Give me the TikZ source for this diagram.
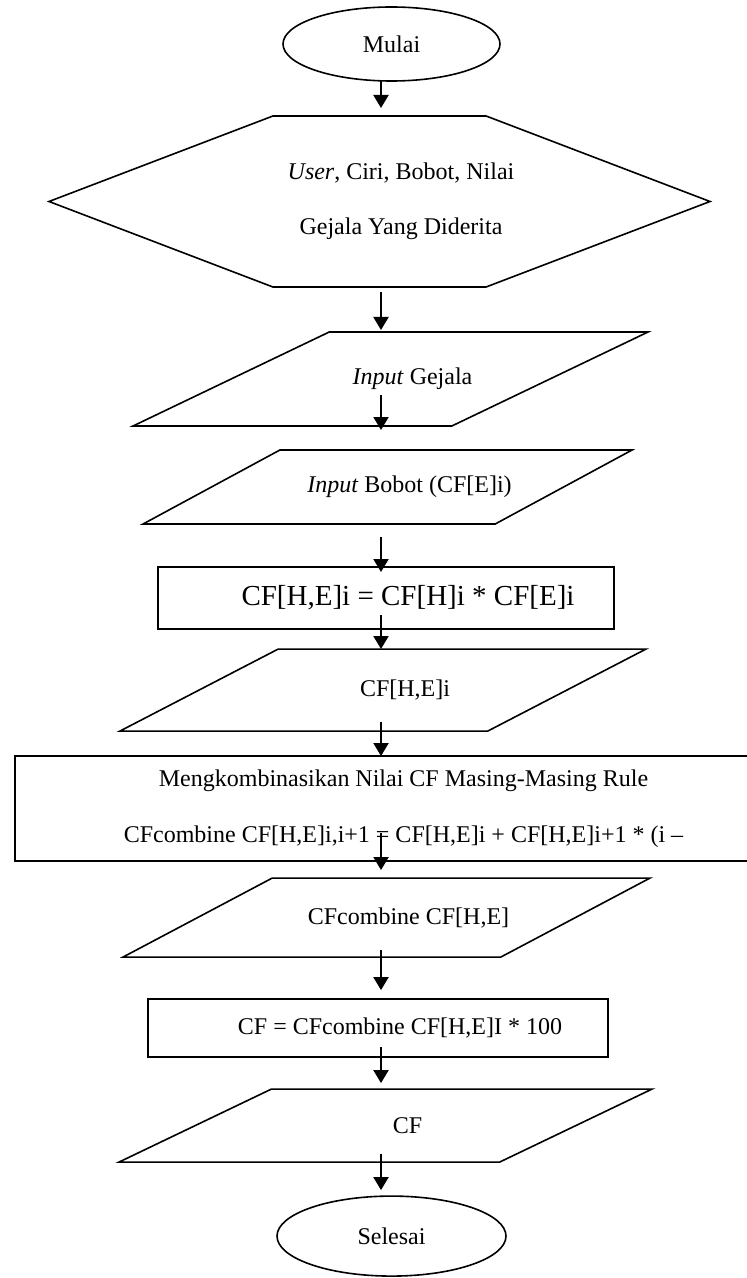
\documentclass[tikz,border=0pt]{standalone}
\usepackage{fontspec}
\setmainfont{Liberation Serif}
\usetikzlibrary{positioning,arrows.meta,shapes.geometric,shapes.symbols}

\begin{document}
\begin{tikzpicture}[
    font=\fontsize{12}{14}\selectfont,
    line width=0.8pt,
    term_box/.style={ellipse, draw, inner sep=0pt, outer sep=0pt},
    prep_box/.style={signal, signal to=east and west, draw, inner sep=0pt, outer sep=0pt},
    io_box/.style={trapezium, trapezium stretches body, draw, inner xsep=0pt, outer sep=0pt},
    proc_box/.style={rectangle, draw, inner sep=0pt, outer sep=0pt},
    txt/.style={xshift=11pt},
    arrow/.style={-{Triangle[width=7.5pt,length=6.5pt]}, line width=1pt}
]
\useasboundingbox (0,0) rectangle (373.5pt,-639pt);
\coordinate (spine) at (190.5pt,0);

\node (mulai) [term_box, minimum width=108.5pt, minimum height=37pt] at (195.75pt,-22pt) {Mulai};

\node (data) [prep_box, below=17.5pt of mulai, xshift=-6pt,
    signal pointer angle=41.8, minimum width=330.5pt, minimum height=85.5pt,
    label={[align=center, font=\fontsize{12}{27.5}\selectfont, xshift=10.75pt]center:{\textit{User}, Ciri, Bobot, Nilai\\Gejala Yang Diderita}}] {};

\node (gejala) [io_box, below=22.5pt of data, xshift=5.5pt,
    trapezium left angle=25.6, trapezium right angle=154.4, minimum width=257.5pt, inner ysep=23.5pt,
    label={[txt]center:{\textit{Input} Gejala}}] {};

\node (bobot) [io_box, below=12pt of gejala, xshift=-1.5pt,
    trapezium left angle=28.4, trapezium right angle=151.6, minimum width=244.5pt, inner ysep=18.5pt,
    label={[txt]center:{\textit{Input} Bobot (CF[E]i)}}] {};

\node (hitung) [proc_box, below=21.5pt of bobot, xshift=-0.75pt, minimum width=228pt, minimum height=31pt,
    label={[txt, font=\fontsize{14.5}{17}\selectfont]center:{CF[H,E]i = CF[H]i * CF[E]i}}] {};

\node (hasil) [io_box, below=10pt of hitung, xshift=-1.5pt,
    trapezium left angle=27.4, trapezium right angle=152.6, minimum width=263pt, inner ysep=20.5pt,
    label={[txt]center:{CF[H,E]i}}] {};

\node (kombinasi) [proc_box, below=12.5pt of hasil, xshift=2.25pt, minimum width=372.5pt, minimum height=52.5pt,
    label={[align=center, font=\fontsize{12}{28}\selectfont, xshift=8pt]center:{Mengkombinasikan Nilai CF Masing-Masing Rule\\CFcombine CF[H,E]i,i+1 = CF[H,E]i + CF[H,E]i+1 * (i –}}] {};

\node (combine) [io_box, below=8.5pt of kombinasi, xshift=-0.5pt,
    trapezium left angle=27.9, trapezium right angle=152.1, minimum width=263.5pt, inner ysep=19.75pt,
    label={[txt]center:{CFcombine CF[H,E]}}] {};

\node (persen) [proc_box, below=21pt of combine, xshift=-4.25pt, minimum width=230pt, minimum height=29pt,
    label={[txt]center:{CF = CFcombine CF[H,E]I * 100}}] {};

\node (cf) [io_box, below=16pt of persen, xshift=3.75pt,
    trapezium left angle=25.6, trapezium right angle=154.4, minimum width=266.5pt, inner ysep=18.25pt,
    label={[txt]center:{CF}}] {};

\node (selesai) [term_box, below=17pt of cf, xshift=3pt, minimum width=114.5pt, minimum height=40pt] {Selesai};

\draw [arrow, shorten >=4pt]                      (mulai.south -| spine)      -- (data.north -| spine);
\draw [arrow, shorten <=2.5pt, shorten >=1pt]     (data.south -| spine)       -- (gejala.north -| spine);
\draw [arrow, shorten <=8pt, shorten >=10pt]      (gejala.center -| spine)    -- (bobot.north -| spine);
\draw [arrow, shorten <=6.5pt, shorten >=-2.5pt]  (bobot.south -| spine)      -- (hitung.north -| spine);
\draw [arrow, shorten <=-7pt]                     (hitung.south -| spine)     -- (hasil.north -| spine);
\draw [arrow, shorten <=-4.5pt]                   (hasil.south -| spine)      -- (kombinasi.north -| spine);
\draw [arrow, shorten <=12.25pt, shorten >=4pt]   (kombinasi.center -| spine) -- (combine.north -| spine);
\draw [arrow, shorten <=-3.5pt, shorten >=4.5pt]  (combine.south -| spine)    -- (persen.north -| spine);
\draw [arrow, shorten <=-5pt, shorten >=3pt]      (persen.south -| spine)     -- (cf.north -| spine);
\draw [arrow, shorten <=-4pt, shorten >=3pt]      (cf.south -| spine)         -- (selesai.north -| spine);

\end{tikzpicture}
\end{document}
